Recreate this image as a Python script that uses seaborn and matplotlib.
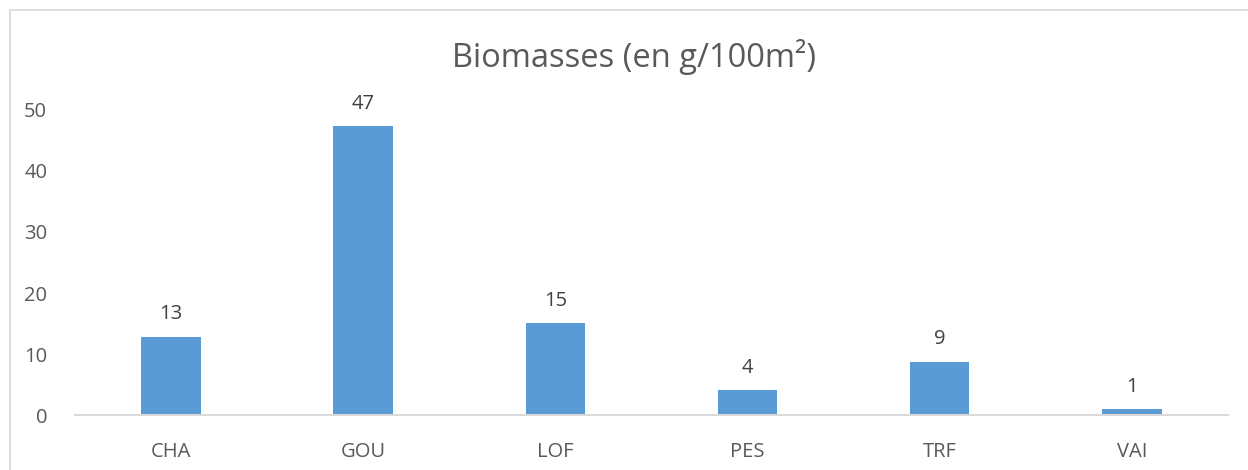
import pandas as pd
import seaborn as sns
import matplotlib.pyplot as plt
from matplotlib.lines import Line2D

# data
species = ["CHA", "GOU", "LOF", "PES", "TRF", "VAI"]
biomass = [12.9, 47.3, 15.1, 4.2, 8.8, 1.0]

bar_color = "#5B9BD5"
text_color = "#595959"

df = pd.DataFrame({"species": species, "biomass": biomass})

sns.set_style("white")
plt.rcParams['font.family'] = ['Open Sans', 'DejaVu Sans']

fig = plt.figure(figsize=(12.48, 4.7), dpi=100)
ax = fig.add_axes([0.0601, 0.116, 0.9238, 0.716])

sns.barplot(data=df, x="species", y="biomass", color=bar_color, width=0.31,
            saturation=1, ax=ax, edgecolor="none")

# value labels
for i, v in enumerate(biomass):
    ax.text(i, v + 2.0, f"{v:.0f}", ha="center", va="bottom",
            fontsize=14.5, color="#404040")

ax.set_xlim(-0.5, 5.5)
ax.set_ylim(0, 55)
ax.set_yticks([0, 10, 20, 30, 40, 50])
ax.set_xlabel("")
ax.set_ylabel("")
ax.tick_params(axis="both", length=0, labelsize=14.5, labelcolor=text_color)
ax.tick_params(axis="y", pad=20)
ax.tick_params(axis="x", pad=19)

for side in ["top", "right", "left"]:
    ax.spines[side].set_visible(False)
ax.spines["bottom"].set_color("#D9D9D9")
ax.spines["bottom"].set_linewidth(1.5)

fig.text(0.508, 0.878, "Biomasses (en g/100m²)", ha="center", va="center",
         fontsize=23.5, color=text_color)

# chart area border (top and left only, rest is cropped)
fig.add_artist(Line2D([10 / 1248, 1], [1 - 10 / 470, 1 - 10 / 470],
                      transform=fig.transFigure, color="#D9D9D9", lw=1.2))
fig.add_artist(Line2D([10 / 1248, 10 / 1248], [0, 1 - 10 / 470],
                      transform=fig.transFigure, color="#D9D9D9", lw=1.2))

fig.savefig("out.png", dpi=100, facecolor="white")
